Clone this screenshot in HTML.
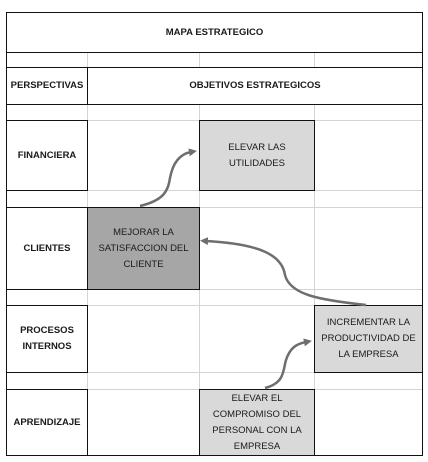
<!DOCTYPE html>
<html><head><style>
body{margin:0;background:#fff;width:428px;height:462px;overflow:hidden;font-family:"Liberation Sans",Arial,sans-serif;}
.a{position:absolute;box-sizing:border-box;display:flex;align-items:center;justify-content:center;text-align:center;color:#1a1a1a;font-size:9.5px;line-height:16px;}
.b{font-weight:bold;}
.k{border:1.5px solid #111;}
.g{position:absolute;background:#d4d4d4;}
</style></head><body>
<div class="g" style="left:7px;top:52px;width:415px;height:1px"></div>
<div class="g" style="left:7px;top:120px;width:415px;height:1px"></div>
<div class="g" style="left:7px;top:190px;width:415px;height:1px"></div>
<div class="g" style="left:7px;top:207px;width:415px;height:1px"></div>
<div class="g" style="left:7px;top:289px;width:415px;height:1px"></div>
<div class="g" style="left:7px;top:305px;width:415px;height:1px"></div>
<div class="g" style="left:7px;top:372px;width:415px;height:1px"></div>
<div class="g" style="left:7px;top:389px;width:415px;height:1px"></div>
<div class="g" style="left:87px;top:52px;width:1px;height:403px"></div>
<div class="g" style="left:199px;top:52px;width:1px;height:403px"></div>
<div class="g" style="left:314px;top:52px;width:1px;height:403px"></div>
<div style="position:absolute;left:6px;top:12px;width:417px;height:444px;box-sizing:border-box;border:1.5px solid #111"></div>
<div class="a k b" style="left:6px;top:12px;width:417px;height:41px">MAPA ESTRATEGICO</div>
<div style="position:absolute;left:6px;top:67px;width:417px;height:1.5px;background:#111"></div>
<div class="a k b" style="left:6px;top:67px;width:82px;height:38px;background:#fff">PERSPECTIVAS</div>
<div class="a k b" style="left:87px;top:67px;width:336px;height:38px;background:#fff">OBJETIVOS ESTRATEGICOS</div>
<div class="a k b" style="left:6px;top:120px;width:82px;height:71px;background:#fff">FINANCIERA</div>
<div class="a k b" style="left:6px;top:207px;width:82px;height:83px;background:#fff">CLIENTES</div>
<div class="a k b" style="left:6px;top:305px;width:82px;height:68px;background:#fff">PROCESOS<br>INTERNOS</div>
<div class="a k b" style="left:6px;top:389px;width:82px;height:67px;background:#fff">APRENDIZAJE</div>
<div class="a k" style="left:199px;top:120px;width:116px;height:71px;background:#d9d9d9">ELEVAR LAS<br>UTILIDADES</div>
<div class="a k" style="left:87px;top:207px;width:113px;height:83px;background:#a6a6a6">MEJORAR LA<br>SATISFACCION DEL<br>CLIENTE</div>
<div class="a k" style="left:314px;top:305px;width:109px;height:68px;background:#d9d9d9">INCREMENTAR LA<br>PRODUCTIVIDAD DE<br>LA EMPRESA</div>
<div class="a k" style="left:199px;top:389px;width:116px;height:67px;background:#d9d9d9">ELEVAR EL<br>COMPROMISO DEL<br>PERSONAL CON LA<br>EMPRESA</div>
<svg width="428" height="462" style="position:absolute;left:0;top:0">
<defs><marker id="m" markerUnits="userSpaceOnUse" markerWidth="8" markerHeight="8" refX="2" refY="4" orient="auto"><path d="M0,0 L8,4 L0,8 Z" fill="#6e6e6e"/></marker></defs>
<g fill="none" stroke="#6e6e6e" stroke-width="2.5">
<path d="M140,206 C165,200 168,190 170,178 C173,162 180,154 191,152" marker-end="url(#m)"/>
<path d="M366,305 C320,300 290,295 285,275 C282,255 260,244 206,241" marker-end="url(#m)"/>
<path d="M265,388 C285,383 283,370 286,360 C290,348 296,344 306,342" marker-end="url(#m)"/>
</g></svg>
</body></html>
